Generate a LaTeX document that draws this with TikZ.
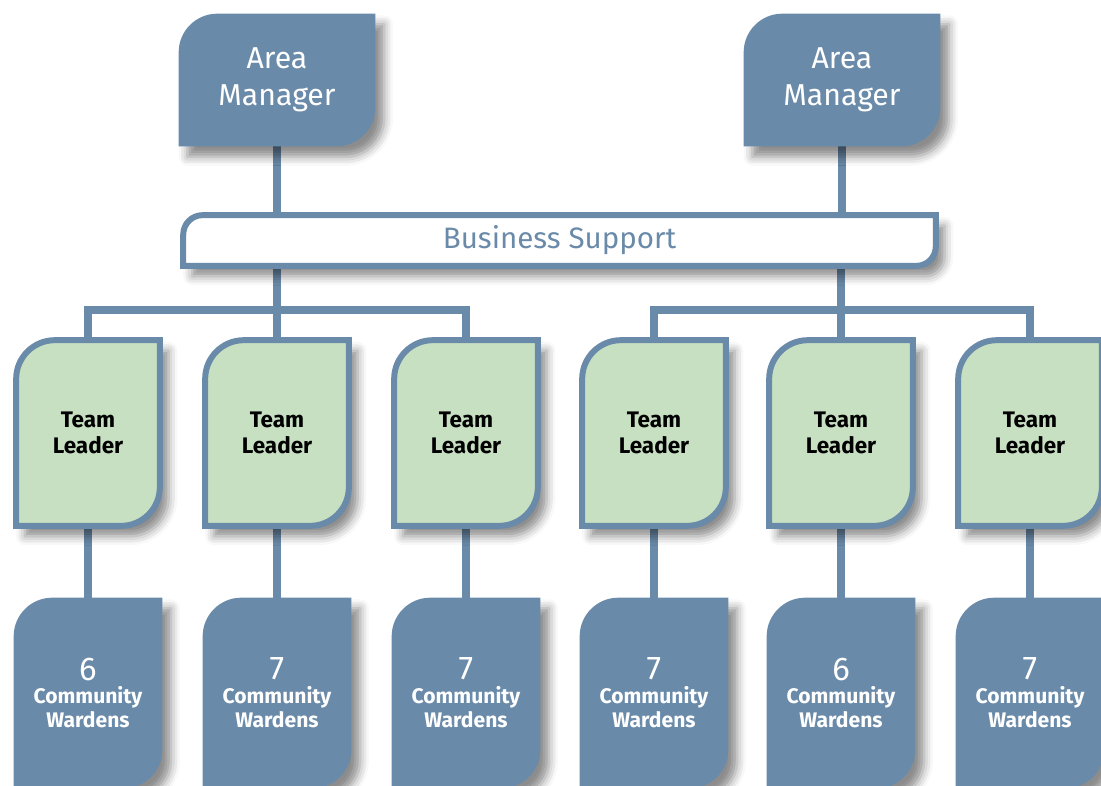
\documentclass[tikz,border=0pt]{standalone}
\usepackage{fontspec}
\setmainfont{Fira Sans}
\usetikzlibrary{backgrounds,shadows.blur}
\definecolor{steel}{HTML}{6A8AA9}
\definecolor{mint}{HTML}{C7E0C2}

% leaf shaped outline round a named node: top left and bottom right corners rounded
\newcommand\leafpath[3][]{%
  \path[#1] (#2.south west) [rounded corners=#3] -- (#2.north west) [sharp corners]
    -- (#2.north east) [rounded corners=#3] -- (#2.south east) [sharp corners] -- cycle;}

\tikzset{
  box/.style={rectangle, inner sep=0pt, align=center},
  manager/.style={box, minimum width=3.92cm, minimum height=2.64cm,
    text=white, font=\fontsize{17.2}{21}\selectfont},
  support/.style={box, minimum width=15.04cm, minimum height=1cm,
    text=steel, font=\fontsize{16.8}{20}\selectfont},
  leader/.style={box, minimum width=2.86cm, minimum height=3.7cm,
    text=black, font=\fontsize{12.8}{14.7}\selectfont\bfseries},
  warden/.style={box, minimum width=2.96cm, minimum height=3.8cm,
    text=white, font=\fontsize{12}{13.6}\selectfont\bfseries},
  link/.style={draw=steel, line width=4.4pt},
  shade/.style={blur shadow={shadow xshift=5pt, shadow yshift=-6pt,
    shadow blur radius=5pt, shadow opacity=45}},
  solid box/.style={fill=steel, shade},
  framed box/.style={fill=#1, draw=steel, line width=3.4pt, shade},
}

\begin{document}
\begin{tikzpicture}[x=0.02cm, y=-0.02cm]
  \clip (0,0) rectangle (1101,785);
  %Top of the chart
  \node[manager] (am1) at (277,80) {Area\\Manager};
  \node[manager] (am2) at (842,80) {Area\\Manager};
  \node[support] (bs) at (559.5,240.5) {Business Support};
  \coordinate (bar1) at (277,310);
  \coordinate (bar2) at (841,310);
  %Team leaders and their wardens
  \foreach \x/\n [count=\i] in {88/6,277/7,466/7,654/7,841/6,1030/7} {
    \node[leader] (tl\i) at (\x,433) {Team\\Leader};
    \node[warden] (cw\i) at (\x,693) {{\fontsize{18.7}{13.6}\mdseries\selectfont\n}\\Community\\Wardens};
  }
  \begin{scope}[on background layer]
    %Draw lines
    \draw[link] (am1.south) -- (am1.south |- bs.north);
    \draw[link] (am2.south) -- (am2.south |- bs.north);
    \draw[link] (bar1 |- bs.south) -- (bar1) -- (tl2.north);
    \draw[link] (bar2 |- bs.south) -- (bar2) -- (tl5.north);
    \draw[link] (tl1.north) |- (bar1) -| (tl3.north);
    \draw[link] (tl4.north) |- (bar2) -| (tl6.north);
    \foreach \i in {1,...,6}
      \draw[link] (tl\i.south) -- (cw\i.north);
    %Draw boxes
    \leafpath[solid box]{am1}{22pt}
    \leafpath[solid box]{am2}{22pt}
    \leafpath[framed box=white]{bs}{11pt}
    \foreach \i in {1,...,6} {
      \leafpath[framed box=mint]{tl\i}{22pt}
      \leafpath[solid box]{cw\i}{22pt}
    }
  \end{scope}
\end{tikzpicture}
\end{document}
